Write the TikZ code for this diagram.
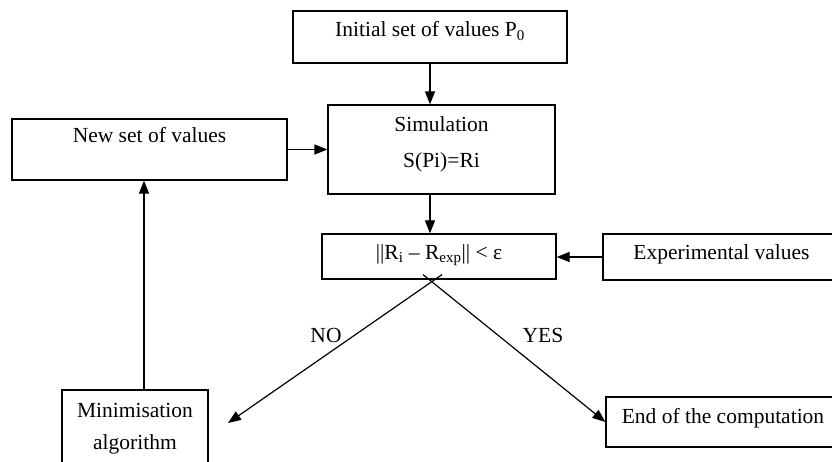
\documentclass[tikz,border=0pt]{standalone}
\usepackage{fontspec}
\setmainfont{Liberation Serif}
\usetikzlibrary{arrows.meta}

\begin{document}
\begin{tikzpicture}[x=1pt,y=-1pt,
  box/.style={draw,line width=1.2pt,inner sep=0pt,align=center,font=\fontsize{21.5}{26}\selectfont},
  arr/.style={line width=1.2pt,-{Triangle[length=13pt,width=10pt]}},
  lbl/.style={inner sep=0pt,font=\fontsize{21.5}{26}\selectfont}]
\clip (0,0) rectangle (832,462); % Frame of the picture
\node[box,anchor=base,minimum width=274pt,text height=26pt,text depth=26pt] (init) at (430,37) {Initial set of values P\textsubscript{0}}; % Starting box
\node[box,anchor=base,minimum width=227pt,text height=63pt,text depth=26pt] (sim) at (441.5,168) {Simulation\\[10pt]S(Pi)=Ri}; % Simulation box
\node[box,anchor=base,minimum width=275pt,text height=24pt,text depth=37pt] (new) at (149.5,143) {New set of values}; % Box on the left
\node[box,anchor=base,minimum width=234pt,text height=25pt,text depth=20pt] (test) at (439,259) {\textbar\textbar R\textsubscript{i} – R\textsubscript{exp}\textbar\textbar\ < ε}; % Test box
\node[box,anchor=base,minimum width=237pt,text height=25pt,text depth=21pt] (exp) at (721.5,259) {Experimental values}; % Box on the right
\node[box,anchor=base,minimum width=146pt,text height=59pt,text depth=30pt] (mini) at (135,449) {Minimisation\\[6pt]algorithm}; % Bottom left box
\node[box,anchor=base,minimum width=234pt,text height=26pt,text depth=24pt] (end) at (723,423) {End of the computation}; % Bottom right box
\coordinate (noStart) at ([xshift=3pt,yshift=5pt]test.south); % Start of the NO branch
\coordinate (yesStart) at ([xshift=-16pt,yshift=5pt]test.south); % Start of the YES branch
\coordinate (noEnd) at (228,423); % End of the NO branch
\draw[arr] (init.south) -- (init.south |- sim.north); % Arrow to the simulation
\draw[arr] (new.east) -- (new.east -| sim.west); % Arrow from the new values
\draw[arr] (sim.south -| init.south) -- (test.north -| init.south); % Arrow to the test
\draw[arr] (exp.west) -- (exp.west -| test.east); % Arrow from the experimental values
\draw[arr] ([xshift=9pt]mini.north) -- ([xshift=9pt]mini.north |- new.south); % Arrow back up
\draw[arr] (noStart) -- (noEnd); % NO branch
\draw[arr] (yesStart) -- (end.west); % YES branch
\node[lbl,anchor=base] (no) at (326,342) {NO}; % Label of the NO branch
\node[lbl,anchor=base] (yes) at (543,342) {YES}; % Label of the YES branch
\end{tikzpicture}
\end{document}
